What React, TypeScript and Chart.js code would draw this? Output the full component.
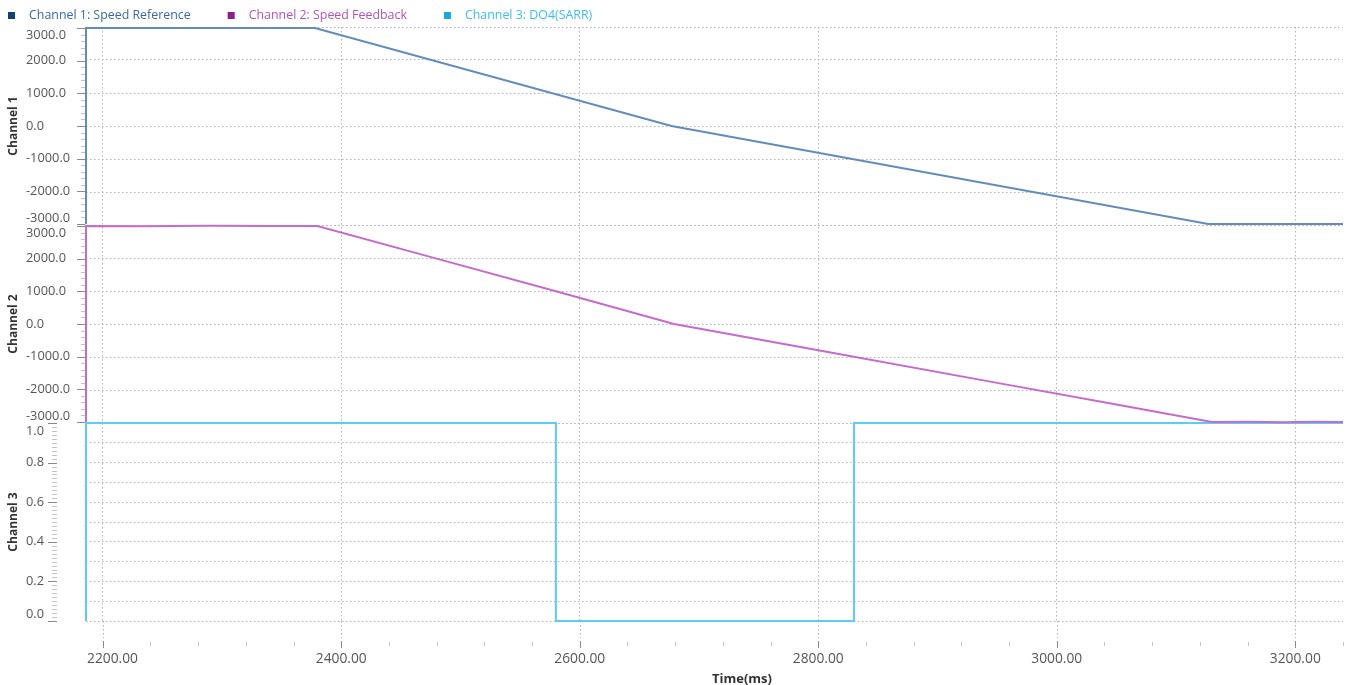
import React, { useEffect, useRef } from 'react';
import { Chart, registerables } from 'chart.js';

Chart.register(...registerables);

// ---- data ----
const legendLabels = ['Channel 1: Speed Reference', 'Channel 2: Speed Feedback', 'Channel 3: DO4(SARR)'];
const panelTitles = ['Channel 1', 'Channel 2', 'Channel 3'];
const xTitle = 'Time(ms)';

const ch1Time = [2186, 2186, 2378, 2677, 3127, 3240];
const ch1Value = [-3000, 3000, 3000, 0, -3000, -3000];

const ch2Time = [2186, 2186, 2230, 2290, 2340, 2380, 2480, 2580, 2679, 2800, 2950, 3050, 3130, 3160, 3190, 3215, 3240];
const ch2Value = [-3000, 3000, 2995, 3004, 2997, 3000, 2000, 1000, 0, -805, -1802, -2467, -3000, -2990, -3004, -2993, -3000];

const ch3Time = [2186, 2186, 2580, 2580, 2830, 2830, 3240];
const ch3Value = [0, 1, 1, 0, 0, 1, 1];

const xTicks = [2200, 2400, 2600, 2800, 3000, 3200];
const speedTicks = [-3000, -2000, -1000, 0, 1000, 2000, 3000];
const doTicks = [0, 0.2, 0.4, 0.6, 0.8, 1.0];

// ---- styles ----
const FONT = '"Open Sans", "Noto Sans", sans-serif';
const lineColors = ['#648cba', '#c46bcc', '#5ecbf3'];
const boxColors = ['#123f74', '#8c1f8c', '#1aa6e6'];
const textColors = ['#3a69a0', '#b152bb', '#3cbcef'];
const GRID = '#b3b3b3';

const toPts = (t: number[], v: number[]) => t.map((x, i) => ({ x, y: v[i] }));

const decor = {
  id: 'decor',
  afterDraw(chart: any) {
    const ctx: CanvasRenderingContext2D = chart.ctx;
    const area = chart.chartArea;
    ctx.save();

    // ---- legend ----
    ctx.font = `12.4px ${FONT}`;
    ctx.textBaseline = 'middle';
    ctx.textAlign = 'left';
    let bx = 8;
    legendLabels.forEach((lab, i) => {
      ctx.fillStyle = boxColors[i];
      ctx.fillRect(bx, 12, 7, 7);
      ctx.fillStyle = textColors[i];
      const tx = bx + 21;
      ctx.fillText(lab, tx, 15);
      bx = tx + ctx.measureText(lab).width + 37;
    });

    // ---- y panels ----
    const panels = [
      { id: 'yA', ticks: speedTicks, minor: 200, tickRight: area.left - 1, major: 8, minorLen: 4 },
      { id: 'yB', ticks: speedTicks, minor: 200, tickRight: area.left - 1, major: 8, minorLen: 4 },
      { id: 'yC', ticks: doTicks, minor: 0.02, tickRight: 57, major: 9, minorLen: 5 },
    ];
    panels.forEach((p, pi) => {
      const s = chart.scales[p.id];
      const top = s.top;
      const bottom = s.bottom;
      // minor ticks
      ctx.strokeStyle = '#c4c4c4';
      ctx.lineWidth = 1;
      const k0 = Math.ceil(s.min / p.minor - 1e-9);
      const k1 = Math.floor(s.max / p.minor + 1e-9);
      for (let k = k0; k <= k1; k++) {
        const v = k * p.minor;
        if (p.ticks.some((t) => Math.abs(t - v) < p.minor / 10)) continue;
        const y = Math.round(s.getPixelForValue(v)) + 0.5;
        ctx.beginPath();
        ctx.moveTo(p.tickRight - p.minorLen, y);
        ctx.lineTo(p.tickRight, y);
        ctx.stroke();
      }
      // major ticks + labels
      ctx.font = `12.8px ${FONT}`;
      ctx.fillStyle = '#555555';
      ctx.textAlign = 'left';
      ctx.textBaseline = 'middle';
      p.ticks.forEach((t) => {
        const yy = s.getPixelForValue(t);
        const y = Math.round(yy) + 0.5;
        ctx.strokeStyle = '#8a8a8a';
        ctx.beginPath();
        ctx.moveTo(p.tickRight - p.major, y);
        ctx.lineTo(p.tickRight, y);
        ctx.stroke();
        const ly = Math.min(Math.max(yy, top + 8), bottom - 7);
        ctx.fillText(t.toFixed(1), 26, ly);
      });
      // title
      ctx.save();
      ctx.translate(14, (top + bottom) / 2);
      ctx.rotate(-Math.PI / 2);
      ctx.font = `bold 12px ${FONT}`;
      ctx.fillStyle = '#333333';
      ctx.textAlign = 'center';
      ctx.textBaseline = 'middle';
      ctx.fillText(panelTitles[pi], 0, 0);
      ctx.restore();
    });

    // ---- x axis ----
    const xs = chart.scales.x;
    const tickTop = area.bottom + 20;
    // dotted extension of major grid lines
    ctx.strokeStyle = GRID;
    ctx.setLineDash([1.5, 2.5]);
    xTicks.forEach((t) => {
      const x = Math.round(xs.getPixelForValue(t)) + 0.5;
      ctx.beginPath();
      ctx.moveTo(x, area.bottom);
      ctx.lineTo(x, tickTop - 3);
      ctx.stroke();
    });
    ctx.setLineDash([]);
    // minor ticks
    ctx.strokeStyle = '#c4c4c4';
    for (let k = Math.ceil(xs.min / 40); k <= Math.floor(xs.max / 40); k++) {
      const v = k * 40;
      if (v % 200 === 0) continue;
      const x = Math.round(xs.getPixelForValue(v)) + 0.5;
      ctx.beginPath();
      ctx.moveTo(x, tickTop + 1);
      ctx.lineTo(x, tickTop + 5);
      ctx.stroke();
    }
    // major ticks + labels
    ctx.font = `13.8px ${FONT}`;
    ctx.fillStyle = '#555555';
    ctx.textAlign = 'left';
    ctx.textBaseline = 'middle';
    xTicks.forEach((t) => {
      const xx = xs.getPixelForValue(t);
      const x = Math.round(xx) + 0.5;
      ctx.strokeStyle = '#8a8a8a';
      ctx.beginPath();
      ctx.moveTo(x, tickTop);
      ctx.lineTo(x, tickTop + 7);
      ctx.stroke();
      const lab = t.toFixed(2);
      const w = ctx.measureText(lab).width;
      let lx = xx - w / 2;
      lx = Math.max(lx, area.left + 1);
      lx = Math.min(lx, area.right - w);
      ctx.fillText(lab, lx, tickTop + 18);
    });
    ctx.font = `bold 13px ${FONT}`;
    ctx.fillStyle = '#333333';
    ctx.textAlign = 'center';
    ctx.fillText(xTitle, 742, tickTop + 38);

    ctx.restore();
  },
};

const gridOpts = {
  color: GRID,
  lineWidth: 1,
  drawTicks: false,
};
const borderOpts = { display: false, dash: [1.5, 2.5] };

export default function App() {
  const ref = useRef<HTMLCanvasElement | null>(null);

  useEffect(() => {
    if (!ref.current) return;
    const mk = (min: number, max: number, step: number) => ({
      type: 'linear',
      position: 'left',
      stack: 'channels',
      stackWeight: 1,
      min,
      max,
      ticks: { display: false, stepSize: step, includeBounds: false },
      grid: gridOpts,
      border: borderOpts,
      afterFit: (s: any) => {
        s.width = 0;
      },
    });
    const chart = new Chart(ref.current, {
      type: 'line',
      data: {
        datasets: [
          { label: legendLabels[0], data: toPts(ch1Time, ch1Value), xAxisID: 'x', yAxisID: 'yA', borderColor: lineColors[0], backgroundColor: boxColors[0], borderWidth: 2, clip: false },
          { label: legendLabels[1], data: toPts(ch2Time, ch2Value), xAxisID: 'x', yAxisID: 'yB', borderColor: lineColors[1], backgroundColor: boxColors[1], borderWidth: 2, clip: false },
          { label: legendLabels[2], data: toPts(ch3Time, ch3Value), xAxisID: 'x', yAxisID: 'yC', borderColor: lineColors[2], backgroundColor: boxColors[2], borderWidth: 2, clip: false },
        ],
      },
      options: {
        animation: false,
        responsive: false,
        events: [],
        elements: { point: { radius: 0 }, line: { tension: 0, fill: false } },
        layout: { padding: { left: 86, top: 27, right: 3, bottom: 64 } },
        plugins: { legend: { display: false }, tooltip: { enabled: false }, title: { display: false } },
        scales: {
          x: {
            type: 'linear',
            position: 'bottom',
            min: 2186,
            max: 3240,
            ticks: { display: false, stepSize: 200, includeBounds: false },
            grid: gridOpts,
            border: borderOpts,
            afterFit: (s: any) => {
              s.height = 0;
            },
          },
          yC: mk(0, 1, 0.1),
          yB: mk(-3030, 3030, 1000),
          yA: mk(-3030, 3030, 1000),
        } as any,
      },
      plugins: [decor],
    } as any);
    return () => chart.destroy();
  }, []);

  return (
    <div style={{ position: 'fixed', left: 0, top: 0, width: 1346, height: 685, background: '#ffffff' }}>
      <canvas ref={ref} width={1346} height={685} style={{ display: 'block' }} />
    </div>
  );
}
